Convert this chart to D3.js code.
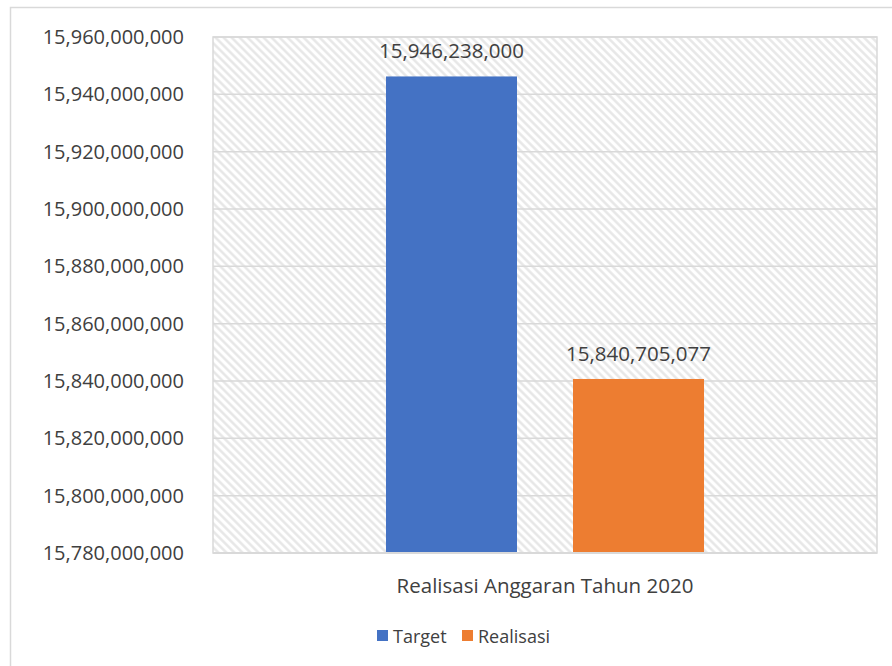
<!DOCTYPE html>
<html>
<head>
<meta charset="utf-8">
<script src="https://cdn.jsdelivr.net/npm/d3@7"></script>
<style>
  body { margin: 0; background: #fff; }
  svg text { font-family: "Open Sans", "Liberation Sans", sans-serif; fill: #404040; }
</style>
</head>
<body>
<script>
// data
var categories = ["Realisasi Anggaran Tahun 2020"];
var seriesNames = ["Target", "Realisasi"];
var seriesValues = [15946238000, 15840705077];
var seriesColors = ["#4472C4", "#ED7D31"];
var yTicks = [15780000000, 15800000000, 15820000000, 15840000000, 15860000000,
              15880000000, 15900000000, 15920000000, 15940000000, 15960000000];

var W = 892, H = 666;
var plot = { left: 213, right: 877, top: 37, bottom: 553 };

var svg = d3.select("body").append("svg").attr("width", W).attr("height", H);

// hatch pattern for plot area
var defs = svg.append("defs");
var pat = defs.append("pattern")
    .attr("id", "hatch")
    .attr("patternUnits", "userSpaceOnUse")
    .attr("width", 5.66).attr("height", 5.66)
    .attr("patternTransform", "rotate(-45)");
pat.append("rect").attr("width", 5.66).attr("height", 5.66).attr("fill", "#fff");
pat.append("line")
    .attr("x1", 1.4).attr("y1", 0).attr("x2", 1.4).attr("y2", 5.66)
    .attr("stroke", "#e6e6e6").attr("stroke-width", 2.4);

// chart frame
svg.append("rect")
    .attr("x", 10.5).attr("y", 7.5).attr("width", 900).attr("height", 700)
    .attr("fill", "#fff").attr("stroke", "#d9d9d9").attr("stroke-width", 1.5);

var y = d3.scaleLinear()
    .domain([yTicks[0], yTicks[yTicks.length - 1]])
    .range([plot.bottom, plot.top]);

var x0 = d3.scaleBand().domain(categories).range([plot.left, plot.right]).padding(0);
var x1 = d3.scaleBand().domain(seriesNames).range([0, x0.bandwidth()])
    .paddingInner(0.2995).paddingOuter(0.925);

// plot area background
svg.append("rect")
    .attr("x", plot.left).attr("y", plot.top)
    .attr("width", plot.right - plot.left).attr("height", plot.bottom - plot.top)
    .attr("fill", "url(#hatch)").attr("stroke", "#d9d9d9").attr("stroke-width", 1.5);

// gridlines + y labels via axis
var yAxis = d3.axisLeft(y).tickValues(yTicks).tickFormat(d3.format(",")).tickSize(0).tickPadding(29);
var gy = svg.append("g").attr("transform", "translate(" + plot.left + ",0)").call(yAxis);
gy.select(".domain").remove();
gy.selectAll("text").style("font-size", "20px").attr("fill", "#404040");

svg.append("g").selectAll("line")
    .data(yTicks)
    .enter().append("line")
    .attr("x1", plot.left).attr("x2", plot.right)
    .attr("y1", function(d) { return y(d); }).attr("y2", function(d) { return y(d); })
    .attr("stroke", "#d9d9d9").attr("stroke-width", 1.5);

// bars
var bars = seriesNames.map(function(s, i) {
    return { name: s, value: seriesValues[i], color: seriesColors[i], cat: categories[0] };
});
svg.append("g").selectAll("rect")
    .data(bars)
    .enter().append("rect")
    .attr("x", function(d) { return x0(d.cat) + x1(d.name); })
    .attr("y", function(d) { return y(d.value); })
    .attr("width", x1.bandwidth())
    .attr("height", function(d) { return plot.bottom - y(d.value); })
    .attr("fill", function(d) { return d.color; });

// data labels
svg.append("g").selectAll("text")
    .data(bars)
    .enter().append("text")
    .attr("x", function(d) { return x0(d.cat) + x1(d.name) + x1.bandwidth() / 2; })
    .attr("y", function(d) { return y(d.value) - 18; })
    .attr("text-anchor", "middle")
    .style("font-size", "20.5px")
    .text(function(d) { return d3.format(",")(d.value); });

// bottom axis line
svg.append("line")
    .attr("x1", plot.left).attr("x2", plot.right)
    .attr("y1", plot.bottom).attr("y2", plot.bottom)
    .attr("stroke", "#d9d9d9").attr("stroke-width", 2);

// category label
svg.append("g").selectAll("text")
    .data(categories)
    .enter().append("text")
    .attr("x", function(d) { return x0(d) + x0.bandwidth() / 2; })
    .attr("y", 593)
    .attr("text-anchor", "middle")
    .style("font-size", "20.5px")
    .text(function(d) { return d; });

// legend
var legendX = [377, 462];
var lg = svg.append("g").selectAll("g")
    .data(bars)
    .enter().append("g")
    .attr("transform", function(d, i) { return "translate(" + legendX[i] + ",630)"; });
lg.append("rect").attr("width", 11).attr("height", 11).attr("fill", function(d) { return d.color; });
lg.append("text").attr("x", 16).attr("y", 13).style("font-size", "18px")
    .text(function(d) { return d.name; });
</script>
</body>
</html>
